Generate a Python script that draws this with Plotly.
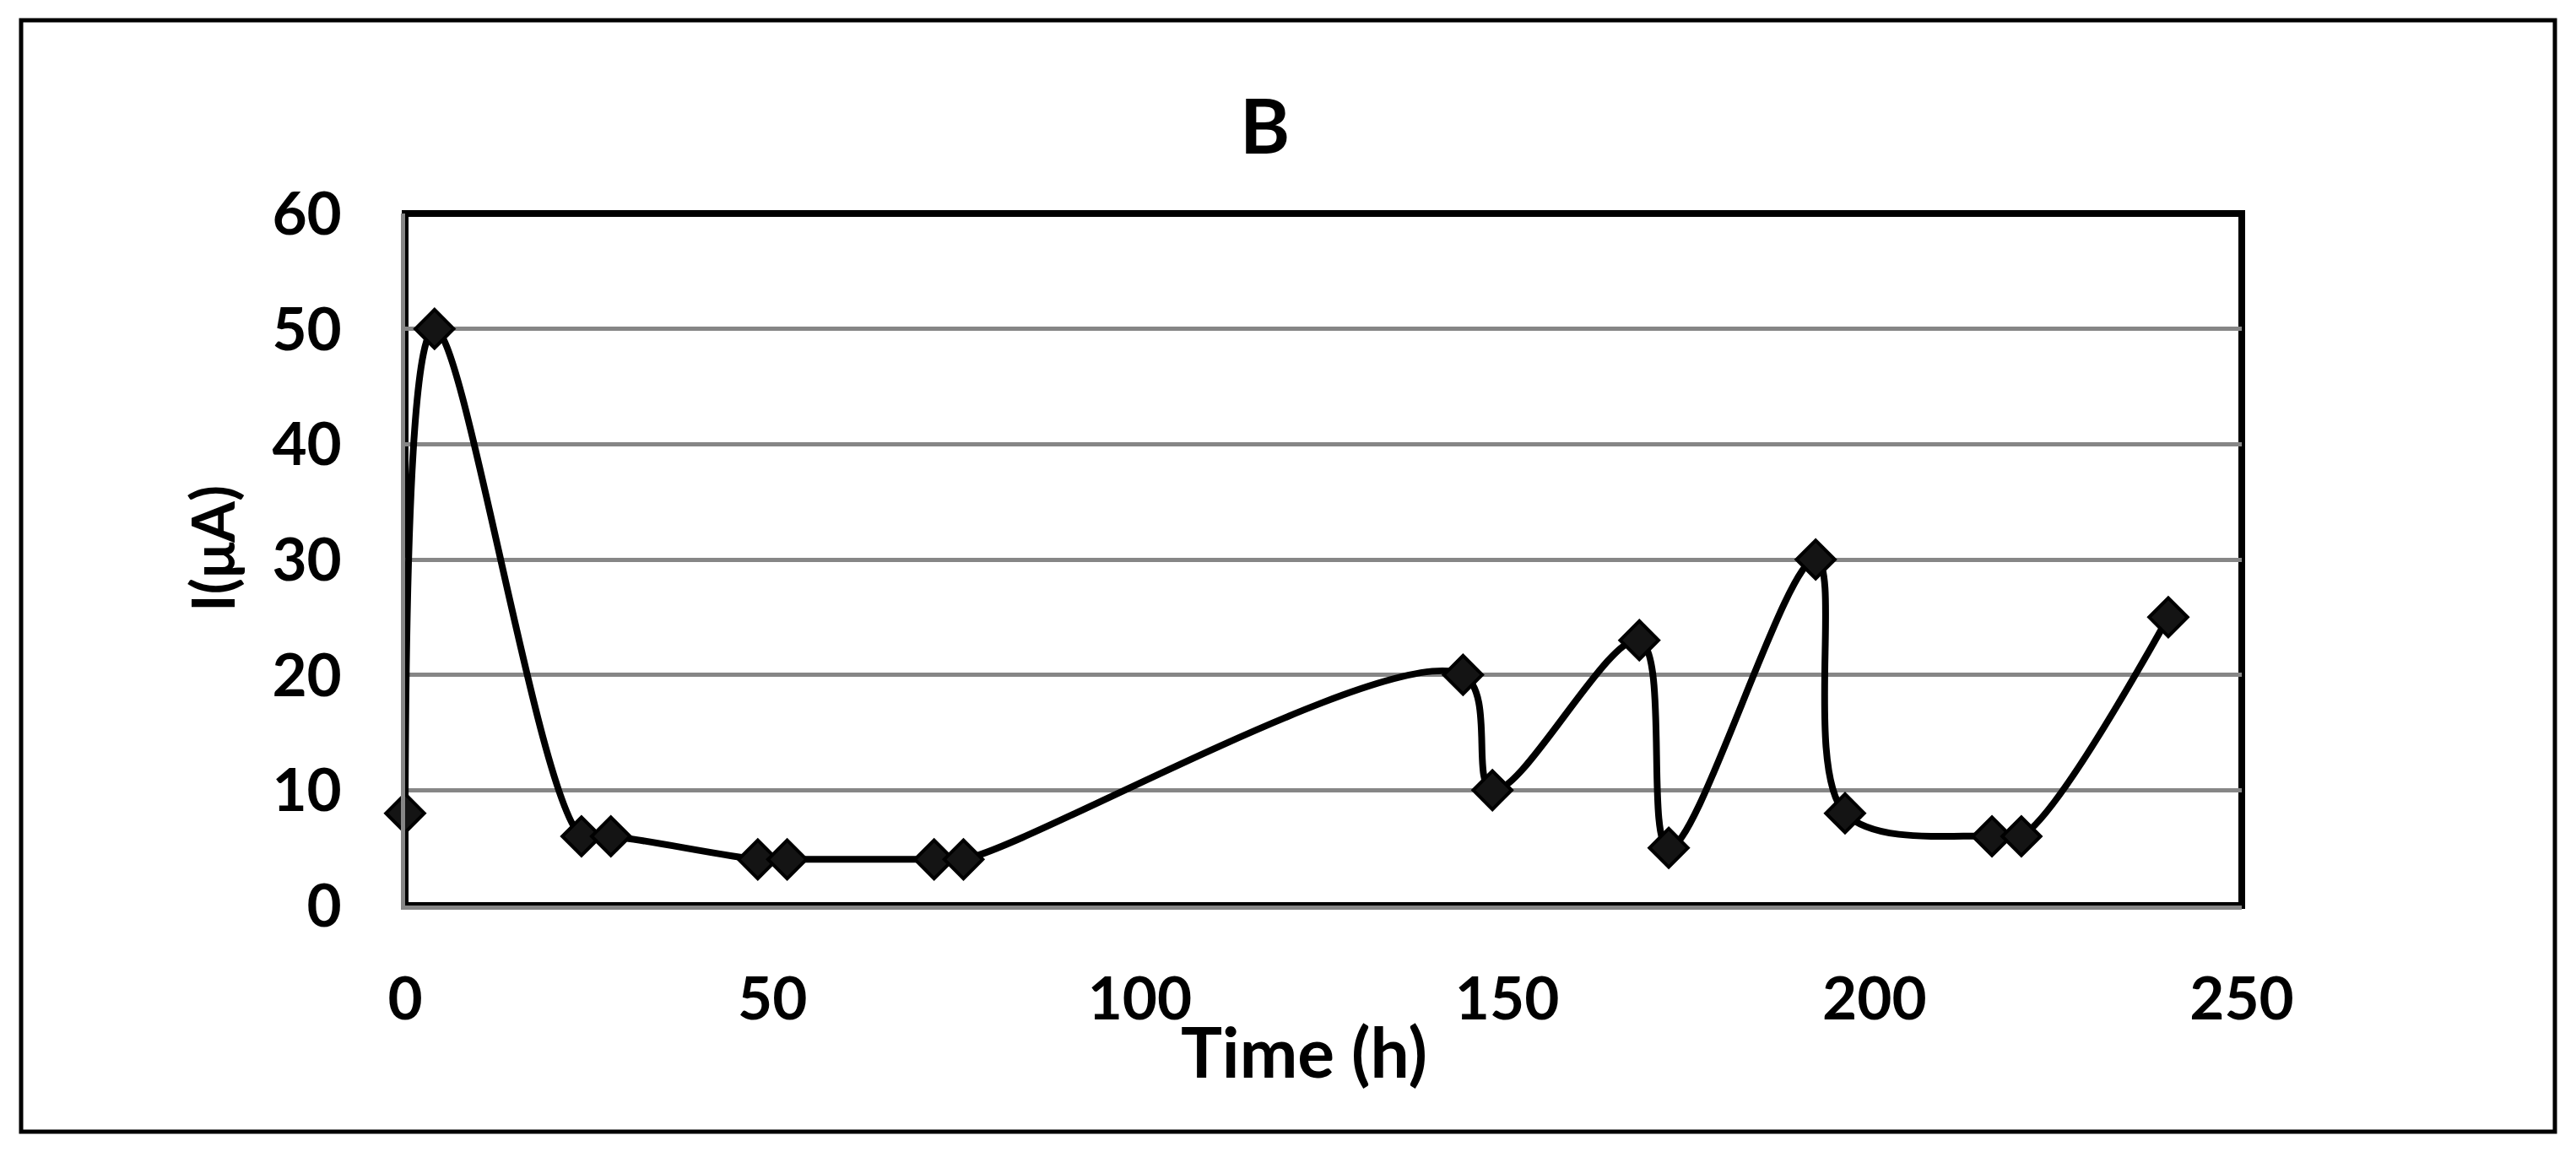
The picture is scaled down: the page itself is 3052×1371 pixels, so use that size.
import plotly.graph_objects as go

time_h = [0, 4, 24, 28, 48, 52, 72, 76, 144, 148, 168, 172, 192, 196, 216, 220, 240]
current_uA = [8, 50, 6, 6, 4, 4, 4, 4, 20, 10, 23, 5, 30, 8, 6, 6, 25]
x_ticks = [0, 50, 100, 150, 200, 250]
y_ticks = [0, 10, 20, 30, 40, 50, 60]

W, H = 3052, 1371
L, R, T, B = 480, 2656, 253, 1073
PW, PH = R - L, B - T

def px(xp):
    return (xp - L) / PW

def py(yp):
    return (B - yp) / PH

FONT = "Lato"

fig = go.Figure()
fig.add_trace(go.Scatter(
    x=time_h, y=current_uA, mode="lines+markers",
    line=dict(color="black", width=8, shape="spline", smoothing=1.0),
    marker=dict(symbol="diamond", size=35, color="#141414",
                line=dict(color="black", width=4)),
    cliponaxis=False, showlegend=False,
))

fig.update_layout(
    width=W, height=H,
    margin=dict(l=L, r=W - R, t=T, b=H - B, pad=0),
    paper_bgcolor="white", plot_bgcolor="white",
    font=dict(family=FONT, color="black", size=72),
    xaxis=dict(range=[0, 250], tickvals=x_ticks, ticks="", showgrid=False,
               zeroline=False, showline=True, linecolor="#868686", linewidth=5,
               tickfont=dict(family=FONT, size=71, color="black", weight="bold"),
               ticklabelstandoff=45),
    yaxis=dict(range=[0, 60], tickvals=y_ticks, ticks="", showgrid=True,
               gridcolor="#868686", gridwidth=5, zeroline=False,
               showline=True, linecolor="#868686", linewidth=5,
               tickfont=dict(family=FONT, size=71, color="black", weight="bold"),
               ticklabelstandoff=56),
    shapes=[
        dict(type="rect", xref="paper", yref="paper", x0=0, x1=1, y0=0, y1=1,
             line=dict(color="black", width=8), layer="below"),
        dict(type="rect", xref="paper", yref="paper",
             x0=px(25), x1=px(3027), y0=py(1341), y1=py(24),
             line=dict(color="black", width=5), layer="below"),
    ],
    annotations=[
        dict(text="<b>B</b>", xref="paper", yref="paper", x=px(1498), y=py(147),
             xanchor="center", yanchor="middle", showarrow=False,
             font=dict(family=FONT, size=90, color="black")),
        dict(text="<b>Time (h)</b>", xref="paper", yref="paper", x=px(1545), y=py(1245),
             xanchor="center", yanchor="middle", showarrow=False,
             font=dict(family=FONT, size=82, color="black")),
        dict(text="<b>I(μA)</b>", xref="paper", yref="paper", x=px(251), y=py(650),
             xanchor="center", yanchor="middle", showarrow=False, textangle=-90,
             font=dict(family=FONT, size=70, color="black")),
    ],
)

fig.write_html("out.html", config={"displayModeBar": False},
               post_script="document.body.style.margin='0';document.body.style.overflow='hidden';")
